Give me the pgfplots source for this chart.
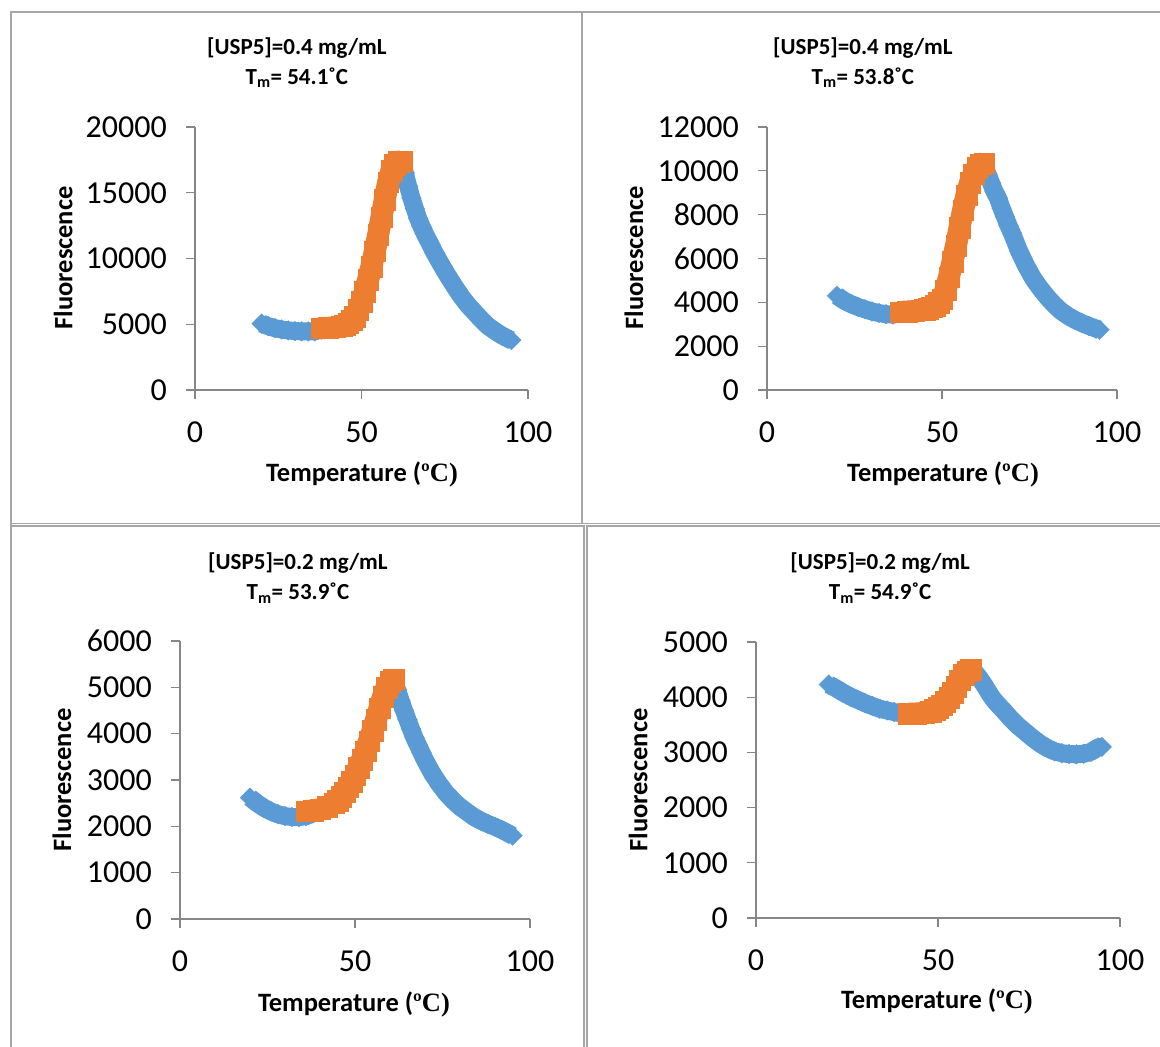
\documentclass[border=0pt]{standalone}
\usepackage{pgfplots}
\usepackage{pgfplotstable}
\pgfplotsset{compat=1.18}
\usepackage{fontspec}
\setmainfont{Carlito}
\newfontfamily\serifb{Liberation Serif}
\definecolor{sblue}{HTML}{5B9BD5}
\definecolor{sorange}{HTML}{ED7D31}
\definecolor{axisgray}{HTML}{868686}
\definecolor{framegray}{HTML}{A6A6A6}

% ---- data: temperature (C), fluorescence
\pgfplotstableread{
T F
20 5050
22 4850
24 4700
26 4600
28 4530
30 4480
32 4460
34 4450
36 4460
38 4600
40 4680
42 4750
44 4850
46 5100
48 5600
50 6700
52 8400
54 10550
56 13150
58 15800
60 17150
61 17350
62 17300
63 16500
64 15500
65 14600
66 13800
67 13050
68 12450
69 11900
70 11400
72 10400
74 9500
76 8650
78 7850
80 7100
82 6450
84 5900
86 5350
88 4860
90 4500
92 4170
94 3900
95 3800
}\bA
\pgfplotstableread{
T F
38 4700
40 4730
42 4780
44 4850
45 4950
46 5100
47 5300
48 5600
49 6100
50 6700
51 7500
52 8400
53 9400
54 10550
55 11800
56 13150
57 14500
58 15800
59 16700
60 17150
61 17350
62 17400
}\oA
\pgfplotstableread{
T F
20 4300
22 4080
24 3920
26 3790
28 3680
30 3580
32 3510
34 3460
36 3440
38 3500
40 3560
42 3600
44 3640
46 3720
48 3860
50 4150
52 5150
54 6600
56 8200
58 9450
60 10150
61 10300
62 10200
63 9850
64 9450
65 9050
66 8750
67 8300
68 7900
69 7500
70 7150
72 6350
74 5680
76 5100
78 4650
80 4250
82 3900
84 3600
86 3380
88 3200
90 3050
92 2920
94 2800
95 2750
}\bB
\pgfplotstableread{
T F
38 3560
40 3580
42 3600
44 3640
45 3670
46 3720
47 3780
48 3860
49 3980
50 4150
51 4550
52 5150
53 5850
54 6600
55 7400
56 8200
57 8900
58 9450
59 9850
60 10150
61 10300
62 10350
}\oB
\pgfplotstableread{
T F
20 2620
22 2500
24 2400
26 2320
28 2260
30 2220
32 2200
34 2200
36 2220
38 2280
40 2330
42 2400
44 2490
46 2630
48 2840
50 3100
52 3430
54 3830
56 4290
58 4790
60 5100
61 5150
62 4950
63 4720
64 4500
65 4300
66 4100
67 3910
68 3750
69 3590
70 3430
72 3150
74 2920
76 2720
78 2560
80 2420
82 2310
84 2200
86 2120
88 2050
90 1990
92 1920
94 1840
95 1800
}\bC
\pgfplotstableread{
T F
36 2330
38 2340
40 2370
42 2420
44 2500
45 2560
46 2640
47 2740
48 2850
49 2970
50 3110
51 3270
52 3440
53 3620
54 3840
55 4060
56 4300
57 4550
58 4800
59 5000
60 5120
61 5180
}\oC
\pgfplotstableread{
T F
20 4230
22 4160
24 4080
26 4010
28 3950
30 3890
32 3840
34 3790
36 3760
38 3730
40 3710
42 3700
44 3700
46 3710
48 3740
50 3810
52 3920
54 4080
56 4310
58 4470
59 4500
60 4460
61 4380
62 4290
63 4190
64 4080
65 3980
66 3900
67 3830
68 3760
70 3610
72 3480
74 3370
76 3260
78 3160
80 3080
82 3020
84 2985
86 2970
88 2965
90 2975
92 3010
93 3050
94 3090
95 3100
}\bD
\pgfplotstableread{
T F
42 3700
44 3705
46 3715
48 3740
49 3770
50 3810
51 3860
52 3920
53 3990
54 4080
55 4190
56 4310
57 4410
58 4470
59 4500
}\oD

\pgfplotsset{
  panel/.style={
    scale only axis, anchor=south west, clip=false,
    xmin=0, xmax=100, ymin=0,
    axis x line=bottom, axis y line=left,
    axis line style={-, draw=axisgray, line width=1.3pt},
    tick style={draw=axisgray, line width=1.3pt},
    tick align=outside, major tick length=9pt,
    xtick={0,50,100},
    scaled y ticks=false,
    /pgf/number format/1000 sep={},
    /pgf/number format/assume math mode=true,
    ticklabel style={font=\fontsize{32}{32}\selectfont, inner sep=0pt},
    xticklabel style={anchor=north, yshift=-23pt},
    yticklabel style={anchor=east, xshift=-19pt},
    title style={font=\bfseries\fontsize{23}{30}\selectfont, align=center, anchor=center, inner sep=0pt},
    xlabel style={font=\bfseries\fontsize{26.5}{26.5}\selectfont, anchor=center, inner sep=0pt},
    ylabel style={font=\bfseries\fontsize{26.5}{26.5}\selectfont, anchor=center, inner sep=0pt},
    xlabel={Temperature ({\serifb\bfseries ºC)}},
    ylabel={Fluorescence},
  },
}
\newcommand\series[2]{%
  \addplot[sblue, line width=18pt, line join=round, mark=none] table[x=T,y=F] {#1};
  \addplot[sblue, only marks, mark=square*, mark size=7pt,
    mark options={rotate=45, line width=0.2pt}] table[x=T,y=F] {#1};
  \addplot[sorange, line width=22pt, line join=round, mark=none] table[x=T,y=F] {#2};
  \addplot[sorange, only marks, mark=square*, mark size=10.3pt,
    mark options={line width=0.2pt}] table[x=T,y=F] {#2};
}
\begin{document}
\begin{tikzpicture}
\useasboundingbox (0pt,0pt) rectangle (1160pt,1047pt);
% panel frames
\begin{scope}[framegray, line width=1.8pt]
\draw (11pt,0pt) -- (11pt,1035pt) -- (1160pt,1035pt);
\draw (582pt,1035pt) -- (582pt,523.5pt);
\draw (11pt,523.5pt) -- (1160pt,523.5pt);
\draw (11pt,521pt) -- (583.7pt,521pt) -- (583.7pt,0pt);
\draw (1160pt,521pt) -- (586.7pt,521pt) -- (586.7pt,0pt);
\end{scope}

% ---------------- Panel 1
\begin{axis}[panel, at={(195pt,657pt)}, width=333pt, height=263pt,
  ymax=20000, ytick={0,5000,10000,15000,20000},
  title={[USP5]=0.4 mg/mL\\T\textsubscript{m}= 54.1˚C},
  title style={at={(axis description cs:0.306,1.222)}},
  xlabel style={at={(axis description cs:0.5015,-0.323)}},
  ylabel style={at={(axis description cs:-0.396,0.502)}}]
\series{\bA}{\oA}
\end{axis}

% ---------------- Panel 2
\begin{axis}[panel, at={(767pt,657pt)}, width=350pt, height=263pt,
  ymax=12000, ytick={0,2000,4000,6000,8000,10000,12000},
  title={[USP5]=0.4 mg/mL\\T\textsubscript{m}= 53.8˚C},
  title style={at={(axis description cs:0.274,1.222)}},
  xlabel style={at={(axis description cs:0.503,-0.323)}},
  ylabel style={at={(axis description cs:-0.380,0.502)}}]
\series{\bB}{\oB}
\end{axis}

% ---------------- Panel 3
\begin{axis}[panel, at={(180pt,128pt)}, width=350pt, height=278pt,
  ymax=6000, ytick={0,1000,2000,3000,4000,5000,6000},
  title={[USP5]=0.2 mg/mL\\T\textsubscript{m}= 53.9˚C},
  title style={at={(axis description cs:0.337,1.205)}},
  xlabel style={at={(axis description cs:0.497,-0.306)}},
  ylabel style={at={(axis description cs:-0.337,0.5)}}]
\series{\bC}{\oC}
\end{axis}

% ---------------- Panel 4
\begin{axis}[panel, at={(756pt,129pt)}, width=364pt, height=276pt,
  ymax=5000, ytick={0,1000,2000,3000,4000,5000},
  title={[USP5]=0.2 mg/mL\\T\textsubscript{m}= 54.9˚C},
  title style={at={(axis description cs:0.341,1.211)}},
  xlabel style={at={(axis description cs:0.497,-0.304)}},
  ylabel style={at={(axis description cs:-0.324,0.5)}}]
\series{\bD}{\oD}
\end{axis}
\end{tikzpicture}
\end{document}
